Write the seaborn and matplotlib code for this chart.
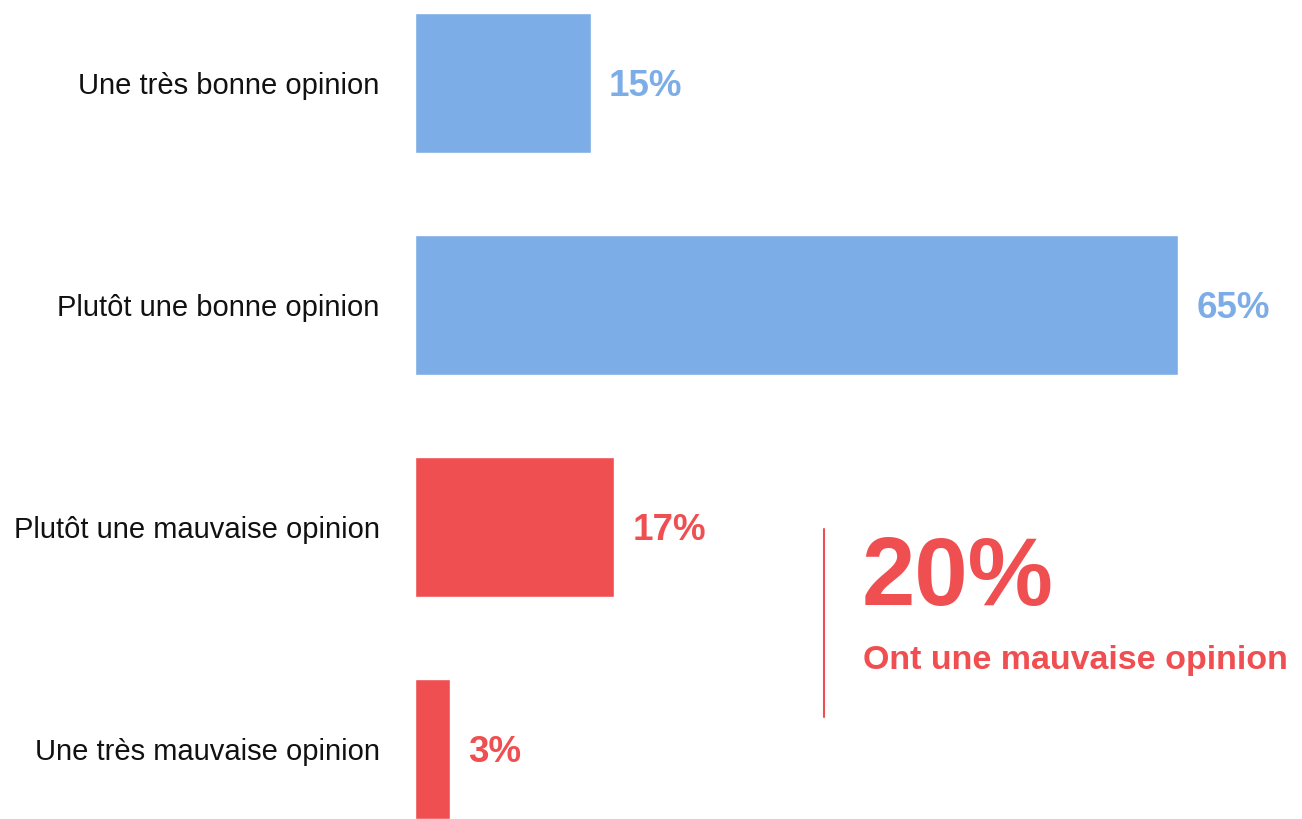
import matplotlib
matplotlib.use("Agg")
import matplotlib.pyplot as plt
from matplotlib.lines import Line2D
import seaborn as sns
import pandas as pd

categories = ["Une très bonne opinion", "Plutôt une bonne opinion",
              "Plutôt une mauvaise opinion", "Une très mauvaise opinion"]
values = [15, 65, 17, 3]
groups = ["bonne", "bonne", "mauvaise", "mauvaise"]
summary_label = "Ont une mauvaise opinion"

BLUE = "#7DADE6"
RED = "#F04F51"
group_colors = {"bonne": BLUE, "mauvaise": RED}

sns.set_theme(style="white")
plt.rcParams["font.family"] = ["Liberation Sans", "DejaVu Sans"]

df = pd.DataFrame({"cat": categories, "val": values, "grp": groups})

W, H = 1302, 819
fig = plt.figure(figsize=(W / 100, H / 100), dpi=100)
ax = fig.add_axes([414.5 / W, 0, 887.5 / W, 1])

sns.barplot(data=df, x="val", y="cat", hue="grp", palette=group_colors,
            width=0.63, dodge=False, legend=False, ax=ax, orient="h",
            saturation=1)

ax.set_xlim(0, 887.5 / 11.75)
ax.set_ylim(3 + (819 - 749) / 222, -83 / 222)
for s in ax.spines.values():
    s.set_visible(False)
ax.set_xticks([])
ax.set_xlabel("")
ax.set_ylabel("")
ax.tick_params(axis="y", length=0, pad=25, labelsize=21, labelcolor="#111111")

for i, (v, g) in enumerate(zip(values, groups)):
    ax.annotate(f"{v}%", xy=(v, i), xytext=(13, 0), textcoords="offset points",
                ha="left", va="center_baseline", fontsize=26.5, fontweight="bold",
                color=group_colors[g])

bad_total = sum(v for v, g in zip(values, groups) if g == "mauvaise")
fig.add_artist(Line2D([824 / W, 824 / W], [1 - 529 / H, 1 - 717 / H],
                      color=RED, lw=1.5, transform=fig.transFigure))
fig.text(862 / W, 1 - 605 / H, f"{bad_total}%", ha="left", va="baseline",
         fontsize=69, fontweight="bold", color=RED)
fig.text(863 / W, 1 - 669 / H, summary_label, ha="left", va="baseline",
         fontsize=24.5, fontweight="bold", color=RED)

fig.savefig("out.png", dpi=100)
